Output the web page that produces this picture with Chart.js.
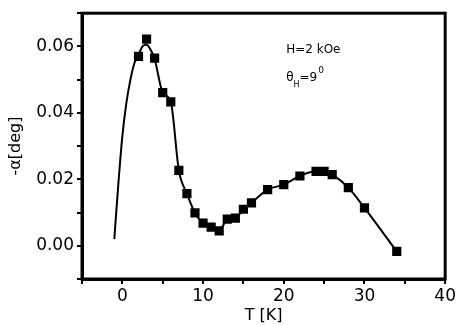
<!DOCTYPE html>
<html>
<head>
<meta charset="utf-8">
<script src="https://cdn.jsdelivr.net/npm/chart.js@4/dist/chart.umd.min.js"></script>
<style>
  html, body { margin: 0; padding: 0; background: #fff; }
  #wrap { width: 458px; height: 325px; }
</style>
</head>
<body>
<div id="wrap"><canvas id="alphaChart"></canvas></div>
<script>
// measured points
const tempK = [2, 3, 4, 5, 6, 7, 8, 9, 10, 11, 12, 13, 14, 15, 16, 18, 20, 22, 24, 25, 26, 28, 30, 34];
const alphaDeg = [0.0570, 0.0622, 0.0565, 0.0461, 0.0433, 0.0227, 0.0157, 0.0099, 0.0068, 0.0056, 0.0045, 0.0080,
  0.0083, 0.0110, 0.0129, 0.0169, 0.0184, 0.0210, 0.0224, 0.0224, 0.0214, 0.0175, 0.0114, -0.0017];

// guide curve
const curveT = [-1, -0.5, 0, 0.5, 1, 1.5, 2, 2.5, 3, 3.5, 4, 5, 6, 7, 8, 9, 10, 11, 12, 13, 14, 15, 16, 18, 20, 22, 24, 25, 26, 28, 30, 34];
const curveA = [0.002, 0.0185, 0.033, 0.043, 0.050, 0.055, 0.0575, 0.0600, 0.0605, 0.0590, 0.0562, 0.0461, 0.0433, 0.0227,
  0.0157, 0.0099, 0.0068, 0.0056, 0.0045, 0.0080, 0.0083, 0.0110, 0.0129, 0.0169, 0.0184, 0.0210, 0.0224, 0.0224, 0.0214,
  0.0175, 0.0114, -0.0017];

const xTickLabels = [0, 10, 20, 30, 40];
const yTickLabels = [0.00, 0.02, 0.04, 0.06];

const fontFam = "'DejaVu Sans', sans-serif";

const framePlugin = {
  id: "frame",
  afterDraw(chart) {
    const ctx = chart.ctx;
    const a = chart.chartArea;
    ctx.save();
    ctx.strokeStyle = "#000";
    ctx.lineWidth = 3;
    ctx.strokeRect(a.left, a.top, a.right - a.left, a.bottom - a.top);

    // field label
    const x = chart.scales.x.getPixelForValue(20.3);
    const y1 = chart.scales.y.getPixelForValue(0.058);
    ctx.fillStyle = "#000";
    ctx.textBaseline = "alphabetic";
    ctx.font = "12px " + fontFam;
    ctx.fillText("H=2 kOe", x, y1);
    const y2 = y1 + 28;
    ctx.fillText("\u03B8", x, y2);
    let w = ctx.measureText("\u03B8").width;
    ctx.font = "8px " + fontFam;
    ctx.fillText("H", x + w, y2 + 6);
    const wh = ctx.measureText("H").width;
    ctx.font = "12px " + fontFam;
    ctx.fillText("=9", x + w + wh, y2);
    const w2 = ctx.measureText("=9").width;
    ctx.font = "9px " + fontFam;
    ctx.fillText("0", x + w + wh + w2 + 1, y2 - 8);
    ctx.restore();
  }
};

new Chart(document.getElementById("alphaChart"), {
  type: "scatter",
  data: {
    datasets: [
      {
        label: "fit",
        data: curveT.map((t, i) => ({ x: t, y: curveA[i] })),
        showLine: true,
        borderColor: "#000",
        borderWidth: 2,
        pointRadius: 0,
        cubicInterpolationMode: "monotone",
        fill: false,
      },
      {
        label: "data",
        data: tempK.map((t, i) => ({ x: t, y: alphaDeg[i] })),
        pointStyle: "rect",
        pointRadius: 6.5,
        backgroundColor: "#000",
        borderColor: "#000",
        borderWidth: 0,
      },
    ],
  },
  options: {
    responsive: true,
    maintainAspectRatio: false,
    animation: false,
    layout: { padding: { top: 12, right: 10, left: 0, bottom: 0 } },
    plugins: { legend: { display: false }, tooltip: { enabled: false } },
    scales: {
      x: {
        type: "linear",
        min: -5,
        max: 40,
        afterFit(s) { s.height = 46; },
        border: { display: true, color: "#000", width: 3 },
        grid: { display: true, drawOnChartArea: false, drawTicks: true, tickLength: 5, color: "#000", lineWidth: 2 },
        ticks: {
          stepSize: 5,
          autoSkip: false,
          maxRotation: 0,
          color: "#000",
          padding: 2,
          font: { family: fontFam, size: 17 },
          callback: (v) => (xTickLabels.includes(v) ? String(v) : ""),
        },
        title: { display: true, text: "T [K]", color: "#000", padding: { top: 0, bottom: 0 }, font: { family: fontFam, size: 16 } },
      },
      y: {
        type: "linear",
        min: -0.01,
        max: 0.07,
        afterFit(s) { s.width = 82; },
        border: { display: true, color: "#000", width: 3 },
        grid: { display: true, drawOnChartArea: false, drawTicks: true, tickLength: 5, color: "#000", lineWidth: 2 },
        ticks: {
          stepSize: 0.01,
          autoSkip: false,
          color: "#000",
          padding: 3,
          font: { family: fontFam, size: 17 },
          callback: (v) => {
            const m = yTickLabels.find((t) => Math.abs(t - v) < 1e-6);
            return m === undefined ? "" : m.toFixed(2);
          },
        },
        title: { display: true, text: "-\u03B1[deg]", color: "#000", padding: { top: 6, bottom: 0 }, font: { family: fontFam, size: 16 } },
      },
    },
  },
  plugins: [framePlugin],
});
</script>
</body>
</html>
